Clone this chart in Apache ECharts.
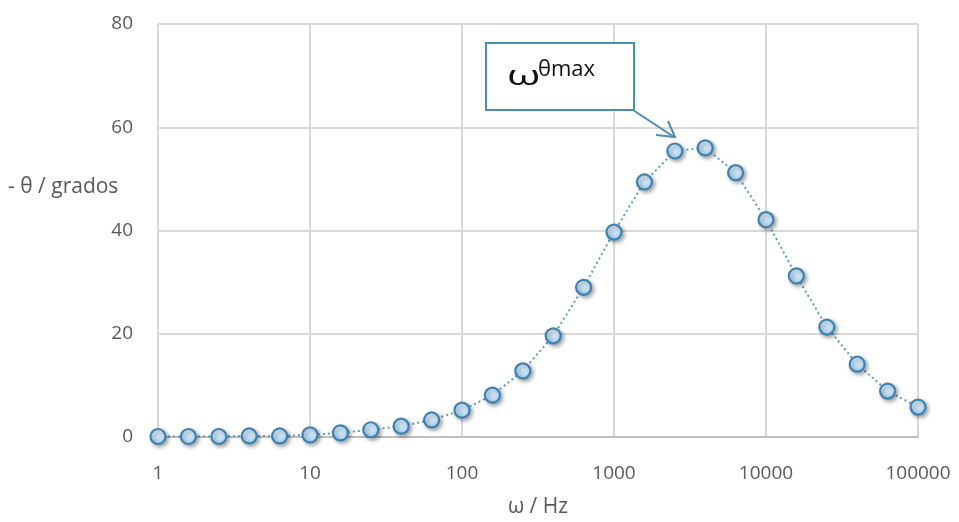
<!DOCTYPE html>
<html><head><meta charset="utf-8">
<script src="https://cdn.jsdelivr.net/npm/echarts@6/dist/echarts.min.js"></script>
<style>html,body{margin:0;padding:0;background:#fff}#c{width:959px;height:522px}</style>
</head><body><div id="c"></div>
<script>
const freqHz = [1,1.585,2.512,3.981,6.31,10,15.85,25.12,39.81,63.1,100,158.5,251.2,398.1,631,1000,1585,2512,3981,6310,10000,15849,25119,39811,63096,100000];
const negTheta = [0.1,0.1,0.1,0.2,0.2,0.4,0.8,1.4,2.1,3.3,5.2,8.1,12.8,19.6,29.0,39.7,49.4,55.4,56.0,51.2,42.1,31.2,21.3,14.1,8.9,5.8];
const yTicks = {min:0,max:80,interval:20};
const xRange = {min:1,max:100000};

const chart = echarts.init(document.getElementById('c'));
const font = '"Open Sans", sans-serif';
chart.setOption({
  animation:false,
  grid:{left:158,right:41,top:24,bottom:85},
  xAxis:{type:'log',logBase:10,min:xRange.min,max:xRange.max,
    axisLine:{show:true,lineStyle:{color:'#bfbfbf',width:2}},
    axisTick:{show:false},
    splitLine:{show:true,lineStyle:{color:'#d9d9d9',width:2}},
    axisLabel:{color:'#595959',fontSize:19,fontFamily:font,margin:27,formatter:v=>String(Math.round(v))}},
  yAxis:{type:'value',min:yTicks.min,max:yTicks.max,interval:yTicks.interval,
    axisLine:{show:false},axisTick:{show:false},
    splitLine:{lineStyle:{color:'#d9d9d9',width:2}},
    axisLabel:{color:'#595959',fontSize:19,fontFamily:font,margin:25}},
  series:[{type:'line',data:freqHz.map((f,i)=>[f,negTheta[i]]),
    symbol:'circle',symbolSize:15,
    lineStyle:{color:'#5b9bc6',width:2,type:[2,3]},
    itemStyle:{color:new echarts.graphic.LinearGradient(0,0,0,1,[{offset:0,color:'#e8f4ff'},{offset:1,color:'#abd2f5'}]),
      borderColor:'#3d83b2',borderWidth:2.2,shadowColor:'rgba(0,0,0,0.35)',shadowBlur:4,shadowOffsetX:2,shadowOffsetY:2}}],
  graphic:[
    {type:'text',x:8,y:187,style:{text:'- θ / grados',fill:'#595959',font:'21px '+font,verticalAlign:'middle'}},
    {type:'text',x:538,y:507,style:{text:'ω / Hz',fill:'#595959',font:'21px '+font,align:'center',verticalAlign:'middle'}},
    {type:'rect',shape:{x:486,y:43,width:148,height:67},style:{fill:'#fff',stroke:'#4a8db5',lineWidth:2},z:100},
    {type:'text',x:507,y:77,scaleX:1.6,style:{text:'ω',fill:'#111',font:'27px '+font,verticalAlign:'middle'},z:101},
    {type:'text',x:538,y:70,style:{text:'θmax',fill:'#111',font:'22px '+font,verticalAlign:'middle'},z:101},
    {type:'line',shape:{x1:633,y1:110,x2:674,y2:137},style:{stroke:'#4a8db5',lineWidth:2},z:100},
    {type:'polyline',shape:{points:[[656,135],[675,137],[668,121]]},style:{stroke:'#4a8db5',lineWidth:2,fill:null},z:100}
  ]
});
</script></body></html>
